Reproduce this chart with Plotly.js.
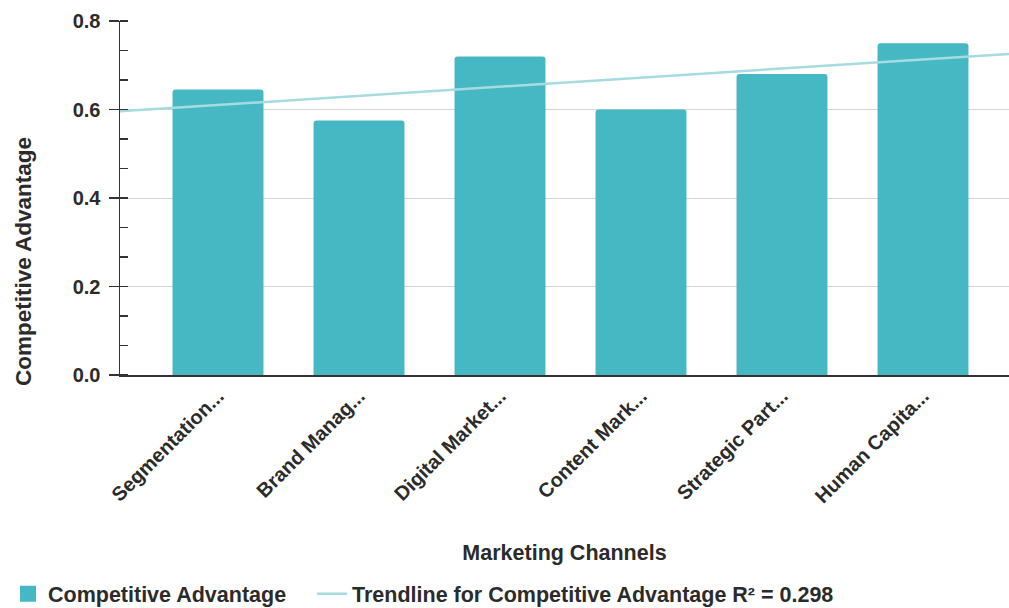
<!DOCTYPE html>
<html>
<head>
<meta charset="utf-8">
<script src="https://cdn.plot.ly/plotly-3.0.1.min.js"></script>
<style>html,body{margin:0;padding:0;background:#fff;}#chart{width:1009px;height:608px;}</style>
</head>
<body>
<div id="chart"></div>
<script>
const categories = ["Segmentation...", "Brand Manag...", "Digital Market...", "Content Mark...", "Strategic Part...", "Human Capita..."];
const values = [0.645, 0.575, 0.72, 0.6, 0.68, 0.75];
const seriesName = "Competitive Advantage";
const trendName = "Trendline for Competitive Advantage R² = 0.298";
const xTitle = "Marketing Channels";
const yTitle = "Competitive Advantage";
const yTicks = [0, 0.2, 0.4, 0.6, 0.8];
const yTickText = ["0.0", "0.2", "0.4", "0.6", "0.8"];

const xIdx = categories.map((_, i) => i);
const xRange = [-0.695, 5.61];

// least-squares trendline over category index
const n = values.length;
const mx = xIdx.reduce((a, b) => a + b, 0) / n;
const my = values.reduce((a, b) => a + b, 0) / n;
let sxy = 0, sxx = 0;
for (let i = 0; i < n; i++) { sxy += (xIdx[i] - mx) * (values[i] - my); sxx += (xIdx[i] - mx) ** 2; }
const slope = sxy / sxx, icpt = my - slope * mx;
const trendX = xRange.slice();
const trendY = trendX.map(x => icpt + slope * x);

const fam = "Liberation Sans, Arial, sans-serif";
const txt = "#2b2b2b";
const f = (s) => ({family: fam, size: s, color: txt, weight: "bold"});
const barColor = "#45B8C4";
const trendColor = "#A6DCE0";

const data = [
  {type: "bar", x: xIdx, y: values, name: seriesName, marker: {color: barColor}, width: 0.645, showlegend: false},
  {type: "scatter", mode: "markers", x: [xIdx[0]], y: [null], name: seriesName,
   marker: {color: barColor, symbol: "square", size: 16}, legend: "legend", showlegend: true, hoverinfo: "skip"},
  {type: "scatter", mode: "lines", x: trendX, y: trendY, name: trendName,
   line: {color: trendColor, width: 2.5}, legend: "legend2", showlegend: true}
];

const layout = {
  width: 1009, height: 608,
  margin: {l: 120, r: 0, t: 21, b: 233, autoexpand: false},
  paper_bgcolor: "#fff", plot_bgcolor: "#fff",
  font: f(20),
  barcornerradius: 3,
  showlegend: true,
  legend: {orientation: "h", x: -0.126, xanchor: "left", y: -0.618, yanchor: "middle", font: f(21.5), bgcolor: "rgba(0,0,0,0)"},
  legend2: {orientation: "h", x: 0.216, xanchor: "left", y: -0.618, yanchor: "middle", font: f(21.5), itemwidth: 30, bgcolor: "rgba(0,0,0,0)"},
  xaxis: {
    type: "linear", range: xRange, tickvals: xIdx, ticktext: categories, tickangle: -45, automargin: false,
    showgrid: false, zeroline: false, showline: true, linecolor: "#333", linewidth: 1.5,
    ticks: "", tickfont: f(20),
    title: {text: xTitle, font: f(21.5), standoff: 38}
  },
  yaxis: {
    range: [0, 0.8], tickvals: yTicks, ticktext: yTickText, automargin: false,
    showgrid: true, gridcolor: "#d4d4d4", gridwidth: 1, zeroline: false,
    showline: true, linecolor: "#333", linewidth: 1.5,
    ticks: "outside", ticklen: 10, tickcolor: "#333", tickwidth: 1.5, ticklabelstandoff: 4,
    minor: {dtick: 0.2/3, tick0: 0, ticks: "inside", ticklen: 8, tickcolor: "#333", tickwidth: 1.5, showgrid: false},
    tickfont: f(20)
  },
  yaxis2: {
    overlaying: "y", anchor: "x", side: "left", range: [0, 0.8], tickvals: yTicks, automargin: false,
    showticklabels: false, showgrid: false, zeroline: false, showline: false,
    ticks: "inside", ticklen: 13, tickcolor: "#333", tickwidth: 1.5
  },
  annotations: [
    {text: yTitle, xref: "paper", yref: "paper", x: -0.1091, y: 0.319, xanchor: "center", yanchor: "middle",
     textangle: -90, showarrow: false, font: f(22.5)}
  ]
};

Plotly.newPlot("chart", data, layout, {displayModeBar: false, staticPlot: true});
</script>
</body>
</html>
